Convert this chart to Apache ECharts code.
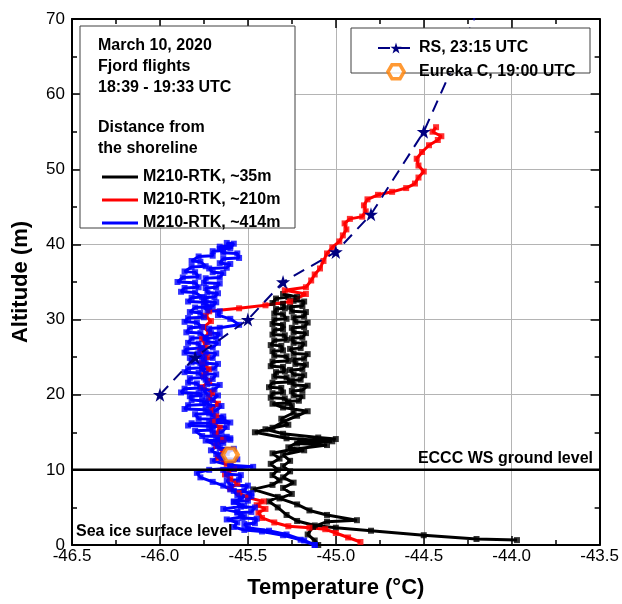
<!DOCTYPE html>
<html><head><meta charset="utf-8">
<script src="https://cdn.jsdelivr.net/npm/echarts@6/dist/echarts.min.js"></script>
<style>html,body{margin:0;padding:0;background:#fff}#c{width:622px;height:604px}</style>
</head><body><div id="c"></div>
<script>
// ---- data (temperature °C, altitude m) ----
const xMin = -46.5, xMax = -43.5, xStep = 0.5;
const yMin = 0, yMax = 70, yStep = 10;

const profile35m = [
 [-43.97,0.65],[-44.2,0.8],[-44.5,1.3],[-44.8,1.9],[-45.0,2.3],[-45.12,2.6],[-45.22,3.2],[-45.28,4.0],
 [-45.33,5.0],[-45.38,5.8],[-45.33,6.4],[-45.47,7.4],[-45.36,8.0],[-45.32,8.6],[-45.36,9.3],[-45.33,10.0],
 [-45.37,10.8],[-45.32,11.5],[-45.36,12.2],[-45.25,12.7],[-45.05,13.3],[-45.22,13.5],[-45.02,13.8],[-45.28,14.2],
 [-45.46,15.0],[-45.36,15.6],[-45.3,16.4],[-45.22,17.2],[-45.16,17.8],[-45.3,18.3],
 [-45.36,18.8],[-45.27,18.9],[-45.29,19.5],[-45.37,19.6],[-45.36,20.2],[-45.3,20.3],[-45.31,20.9],[-45.38,21.0],
 [-45.36,21.6],[-45.26,21.7],[-45.28,22.3],[-45.35,22.4],[-45.34,23.0],[-45.29,23.1],[-45.3,23.7],[-45.37,23.8],
 [-45.36,24.4],[-45.27,24.5],[-45.28,25.1],[-45.35,25.2],[-45.36,25.8],[-45.3,25.9],[-45.31,26.5],[-45.37,26.6],
 [-45.35,27.2],[-45.28,27.3],[-45.29,27.9],[-45.36,28.0],[-45.35,28.6],[-45.3,28.7],[-45.3,29.3],[-45.36,29.4],
 [-45.35,30.0],[-45.28,30.1],[-45.3,30.7],[-45.35,30.8],[-45.34,31.4],[-45.29,31.5],[-45.3,32.1],[-45.36,32.2],
 [-45.34,32.8],[-45.27,33.0],[-45.3,33.4],
 [-45.22,33.0],[-45.24,32.5],[-45.18,32.4],[-45.19,31.8],[-45.26,31.7],[-45.25,31.1],[-45.17,31.0],[-45.18,30.4],
 [-45.24,30.3],[-45.23,29.7],[-45.16,29.6],[-45.18,29.0],[-45.25,28.9],[-45.24,28.3],[-45.17,28.2],[-45.19,27.6],
 [-45.25,27.5],[-45.24,26.9],[-45.18,26.8],[-45.2,26.2],[-45.26,26.1],[-45.24,25.5],[-45.16,25.4],[-45.18,24.8],
 [-45.24,24.7],[-45.23,24.1],[-45.17,24.0],[-45.19,23.4],[-45.26,23.3],[-45.24,22.7],[-45.18,22.6],[-45.2,22.0],
 [-45.25,21.9],[-45.24,21.3],[-45.16,21.2],[-45.19,20.6],[-45.25,20.5],[-45.24,19.9],[-45.19,19.8],[-45.21,19.2],
 [-45.27,19.1],[-45.25,18.5],[-45.24,17.6],[-45.31,16.8],[-45.27,16.0],[-45.4,15.4],[-45.3,14.8],[-45.1,14.3],
 [-45.0,14.1],[-45.2,13.9],[-45.27,13.0],[-45.18,12.6],[-45.3,12.0],[-45.26,11.2],[-45.3,10.5],[-45.26,9.8],
 [-45.3,9.0],[-45.24,8.3],[-45.3,7.6],[-45.25,6.8],[-45.32,6.2],[-45.22,5.4],[-45.15,4.6],[-45.05,4.0],
 [-44.88,3.3],[-45.05,3.1],[-45.13,2.4],[-45.16,1.4],[-45.12,0.6],[-45.1,0]
];

const profile210m = [
 [-44.86,0.4],[-44.93,1.0],[-45.0,1.6],[-45.06,2.1],[-45.15,2.3],[-45.27,2.5],[-45.35,3.0],[-45.42,3.6],
 [-45.44,4.3],[-45.4,4.8],[-45.45,5.3],[-45.41,5.8],[-45.5,6.3],[-45.55,6.9],[-45.6,7.5],[-45.56,8.2],
 [-45.6,8.8],[-45.63,9.4],[-45.58,10.1],[-45.62,10.8],[-45.67,11.6],[-45.64,12.4],[-45.68,13.2],[-45.64,14.0],
 [-45.68,14.8],[-45.66,15.6],[-45.7,16.4],[-45.68,17.2],[-45.71,18.0],[-45.67,18.8],[-45.72,19.6],[-45.7,20.3],
 [-45.76,21.0],[-45.72,21.8],[-45.75,22.6],[-45.72,23.4],[-45.76,24.2],[-45.73,25.0],[-45.77,25.8],[-45.74,26.6],
 [-45.76,27.4],[-45.72,28.2],[-45.75,29.0],[-45.71,29.8],[-45.74,30.5],[-45.72,31.1],[-45.55,31.5],[-45.4,31.9],
 [-45.26,32.4],[-45.17,33.4],[-45.29,33.9],[-45.17,34.3],[-45.14,35.2],[-45.12,36.0],[-45.09,36.8],[-45.07,37.8],
 [-45.05,38.8],[-45.02,39.6],[-44.98,40.4],[-44.96,41.2],[-44.94,42.0],[-44.95,42.8],[-44.92,43.4],[-44.85,43.7],
 [-44.83,44.4],[-44.84,45.2],[-44.82,46.0],[-44.76,46.6],[-44.68,47.0],[-44.6,47.5],[-44.55,48.1],[-44.53,48.9],
 [-44.5,49.7],[-44.53,50.5],[-44.54,51.4],[-44.51,52.3],[-44.47,53.2],[-44.42,53.9],[-44.4,54.4],[-44.45,55.0],
 [-44.43,55.6]
];

const profile414m = [
 [-45.12,0],[-45.2,0.7],[-45.3,1.3],[-45.42,1.8],[-45.52,2.0],[-45.58,2.4],[-45.56,3.0],[-45.62,3.4],
 [-45.52,3.8],[-45.56,4.4],[-45.64,4.8],[-45.52,5.2],[-45.58,5.7],[-45.54,6.2],[-45.48,6.9],[-45.6,7.4],
 [-45.64,7.9],[-45.7,8.4],[-45.77,9.0],[-45.79,9.6],[-45.72,10.0],[-45.47,10.4],[-45.6,10.6],[-45.7,11.2],
 [-45.66,11.9],[-45.71,12.6],[-45.67,13.2],[-45.74,13.9],
 [-45.6,14.0],[-45.62,14.4],[-45.76,14.5],[-45.8,15.2],[-45.7,15.3],[-45.72,15.8],[-45.84,15.9],[-45.82,16.2],
 [-45.6,16.3],[-45.64,16.7],[-45.78,16.8],[-45.8,17.4],[-45.72,17.5],[-45.74,18.0],[-45.86,18.1],[-45.84,18.6],
 [-45.74,18.7],[-45.76,19.2],[-45.82,19.3],[-45.83,19.8],[-45.76,19.9],[-45.78,20.2],[-45.88,20.3],[-45.86,20.8],
 [-45.77,20.9],[-45.79,21.5],[-45.84,21.6],[-45.83,22.2],[-45.75,22.3],[-45.78,22.9],[-45.86,23.0],[-45.84,23.5],
 [-45.76,23.6],[-45.77,24.2],[-45.82,24.3],[-45.83,24.9],[-45.76,25.0],[-45.78,25.5],[-45.86,25.6],[-45.85,26.1],
 [-45.77,26.2],[-45.78,26.8],[-45.84,26.9],[-45.82,27.5],[-45.74,27.6],[-45.77,28.2],[-45.85,28.3],[-45.83,28.9],
 [-45.76,29.0],[-45.79,29.6],[-45.86,29.7],[-45.84,30.2],[-45.75,30.3],[-45.77,30.9],[-45.83,31.0],[-45.8,31.6],
 [-45.72,31.7],[-45.75,32.3],[-45.84,32.4],[-45.82,32.9],[-45.76,33.0],[-45.8,33.6],[-45.88,33.7],[-45.86,34.2],
 [-45.78,34.3],[-45.8,34.9],[-45.9,35.0],[-45.87,35.6],[-45.78,35.7],[-45.8,36.3],[-45.86,36.4],[-45.82,37.0],
 [-45.74,37.1],[-45.77,37.7],[-45.82,37.8],[-45.78,38.4],[-45.7,38.5],[-45.7,39.1],[-45.64,39.2],[-45.66,39.7],
 [-45.6,39.8],[-45.62,40.2],
 [-45.58,40.1],[-45.6,39.5],[-45.66,39.4],[-45.64,38.9],[-45.56,38.8],[-45.55,38.2],[-45.64,38.1],[-45.66,37.5],
 [-45.6,37.4],[-45.62,36.9],[-45.72,36.8],[-45.7,36.3],[-45.64,36.2],[-45.66,35.6],[-45.74,35.5],[-45.75,34.9],
 [-45.66,34.8],[-45.68,34.3],[-45.74,34.2],[-45.73,33.6],[-45.67,33.5],[-45.69,33.0],[-45.75,32.9],[-45.74,32.4],
 [-45.68,32.3],[-45.7,31.8],[-45.75,31.7],[-45.73,31.2],[-45.66,31.1],[-45.67,30.6],[-45.6,30.1],[-45.55,29.3],
 [-45.66,28.9],[-45.72,28.8],[-45.71,28.2],[-45.66,28.1],[-45.68,27.6],[-45.74,27.5],[-45.73,27.0],[-45.67,26.9],
 [-45.7,26.3],[-45.76,26.2],[-45.74,25.6],[-45.68,25.5],[-45.7,24.9],[-45.75,24.8],[-45.74,24.2],[-45.67,24.1],
 [-45.69,23.5],[-45.76,23.4],[-45.74,22.8],[-45.68,22.7],[-45.7,22.1],[-45.74,22.0],[-45.73,21.4],[-45.66,21.3],
 [-45.69,20.7],[-45.75,20.6],[-45.73,20.0],[-45.67,19.9],[-45.7,19.3],[-45.74,19.2],[-45.72,18.6],[-45.65,18.5],
 [-45.68,17.9],[-45.73,17.8],[-45.7,17.2],[-45.64,17.1],[-45.66,16.5],[-45.72,16.4],[-45.7,15.8],[-45.62,15.7],
 [-45.65,15.0],[-45.7,14.9],[-45.68,14.3],[-45.6,14.2],[-45.64,13.6],[-45.69,13.5],[-45.66,12.9],[-45.58,12.8],
 [-45.62,12.2],[-45.68,12.1],[-45.65,11.5],[-45.56,11.4],[-45.6,10.8],[-45.58,10.1],[-45.64,10.0],[-45.62,9.4],
 [-45.54,9.3],[-45.55,8.7],[-45.62,8.6],[-45.6,8.0],[-45.5,7.9],[-45.52,7.3],[-45.58,7.2],[-45.56,6.6],
 [-45.48,6.5],[-45.5,5.9],[-45.58,5.8],[-45.54,5.1],[-45.46,5.0],[-45.48,4.4],[-45.56,4.3],[-45.53,3.6],
 [-45.45,3.5],[-45.46,2.9],[-45.52,2.8],[-45.5,2.3],[-45.38,1.9],[-45.28,1.4],[-45.18,0.6],[-45.12,0]
];

const rsTemp = [-46.0, -45.8, -45.5, -45.3, -45.0, -44.8, -44.5, -44.1];
const rsAlt  = [20, 25, 30, 35, 39, 44, 55, 76];
const eurekaC = [[-45.6, 12]];
const groundLevelAlt = 10;

const names = {
  b: 'M210-RTK, ~35m', r: 'M210-RTK, ~210m', u: 'M210-RTK, ~414m',
  rs: 'RS, 23:15 UTC', eu: 'Eureka C, 19:00 UTC'
};

const FONT = '"Liberation Sans", Arial, sans-serif';
const hexPath = 'path://M0,8.66 L5,0 L15,0 L20,8.66 L15,17.32 L5,17.32 Z';
const starPath = 'path://M50,0 L61.8,36.2 L100,36.2 L69.1,58.8 L80.9,95.1 L50,72.7 L19.1,95.1 L30.9,58.8 L0,36.2 L38.2,36.2 Z';
const barIcon = 'path://M0,0 L36,0 L36,3 L0,3 Z';

const chart = echarts.init(document.getElementById('c'));

function mainAxisCommon() {
  return {
    axisLine: {show: true, onZero: false, lineStyle: {color: '#000', width: 2}},
    axisTick: {show: true, inside: true, length: 9, lineStyle: {color: '#000', width: 1.5}},
    minorTick: {show: true, splitNumber: 2, length: 5, lineStyle: {color: '#000', width: 1.5}},
    splitLine: {show: true, lineStyle: {color: '#b4b4b4', width: 1}}
  };
}
function mirrorAxis(pos, min, max, step) {
  return {
    type: 'value', position: pos, min: min, max: max, interval: step,
    axisLine: {show: true, onZero: false, lineStyle: {color: '#000', width: 2}},
    axisTick: {show: true, inside: true, length: 9, lineStyle: {color: '#000', width: 1.5}},
    minorTick: {show: true, splitNumber: 2, length: 5, lineStyle: {color: '#000', width: 1.5}},
    axisLabel: {show: false}, splitLine: {show: false}
  };
}

function profileSeries(name, data, color) {
  return [{
    name: name, type: 'line', data: data, symbol: 'none', z: 2,
    lineStyle: {color: color, width: 3}, itemStyle: {color: color}, silent: true
  }, {
    name: name + ' pts', type: 'scatter', data: data, symbol: 'rect', symbolSize: 6, z: 2,
    itemStyle: {color: color}, silent: true
  }];
}

const txt = (t, x, y, align) => ({
  type: 'text', z: 60,
  style: {text: t, x: x, y: y, font: 'bold 16px ' + FONT, fill: '#000', align: align || 'left', verticalAlign: 'middle'}
});

chart.setOption({
  animation: false,
  backgroundColor: '#fff',
  grid: {left: 72, right: 22, top: 19, bottom: 58},
  xAxis: [Object.assign({
    type: 'value', min: xMin, max: xMax, interval: xStep, position: 'bottom',
    name: 'Temperature (°C)', nameLocation: 'middle', nameGap: 32,
    nameTextStyle: {fontFamily: FONT, fontWeight: 'bold', fontSize: 22, color: '#000'},
    axisLabel: {fontFamily: FONT, fontSize: 17, color: '#000', margin: 3, formatter: v => v.toFixed(1)}
  }, mainAxisCommon()), mirrorAxis('top', xMin, xMax, xStep)],
  yAxis: [Object.assign({
    type: 'value', min: yMin, max: yMax, interval: yStep, position: 'left',
    name: 'Altitude (m)', nameLocation: 'middle', nameGap: 40,
    nameTextStyle: {fontFamily: FONT, fontWeight: 'bold', fontSize: 22, color: '#000'},
    axisLabel: {fontFamily: FONT, fontSize: 17, color: '#000', margin: 7}
  }, mainAxisCommon()), mirrorAxis('right', yMin, yMax, yStep)],
  legend: [{
    orient: 'vertical', left: 97, top: 164, itemWidth: 36, itemHeight: 14, itemGap: 7, z: 100,
    textStyle: {fontFamily: FONT, fontWeight: 'bold', fontSize: 16, color: '#000'},
    data: [{name: names.b, icon: barIcon}, {name: names.r, icon: barIcon}, {name: names.u, icon: barIcon}],
    selectedMode: false
  }, {
    orient: 'vertical', left: 372, top: 35, itemWidth: 36, itemHeight: 14, itemGap: 7, z: 100,
    textStyle: {fontFamily: FONT, fontWeight: 'bold', fontSize: 16, color: '#000'},
    data: [names.rs, {name: names.eu, itemStyle: {borderWidth: 3.5, borderColor: '#ff8000', color: '#fff'}}],
    selectedMode: false
  }],
  graphic: [
    {type: 'rect', z: 50, shape: {x: 80, y: 26, width: 215, height: 202},
     style: {fill: '#fff', stroke: '#404040', lineWidth: 1}},
    {type: 'rect', z: 50, shape: {x: 351, y: 28, width: 239, height: 45},
     style: {fill: '#fff', stroke: '#404040', lineWidth: 1}},
    txt('March 10, 2020', 98, 46),
    txt('Fjord flights', 98, 67),
    txt('18:39 - 19:33 UTC', 98, 88),
    txt('Distance from', 98, 128),
    txt('the shoreline', 98, 149),
    txt('ECCC WS ground level', 593, 459, 'right'),
    txt('Sea ice surface level', 76, 532)
  ],
  series: [
    ...profileSeries(names.b, profile35m, '#000000'),
    ...profileSeries(names.r, profile210m, '#ff0000'),
    ...profileSeries(names.u, profile414m, '#0000ff'),
    {
      name: names.rs, type: 'line', z: 5, data: rsTemp.map((t, i) => [t, rsAlt[i]]),
      symbol: starPath, symbolSize: 14, showSymbol: true,
      lineStyle: {color: '#000080', width: 2, type: [12, 8]}, itemStyle: {color: '#000080'}, silent: true
    },
    {
      name: names.eu, type: 'scatter', z: 6, data: eurekaC, symbol: hexPath, symbolSize: [15, 13],
      itemStyle: {color: '#ffffff', borderColor: '#ff8000', borderWidth: 4}, silent: true
    },
    {
      name: 'ground', type: 'line', z: 7, symbol: 'none', silent: true,
      data: [[xMin, groundLevelAlt], [xMax, groundLevelAlt]],
      lineStyle: {color: '#000', width: 2.5}
    }
  ]
});
</script></body></html>
